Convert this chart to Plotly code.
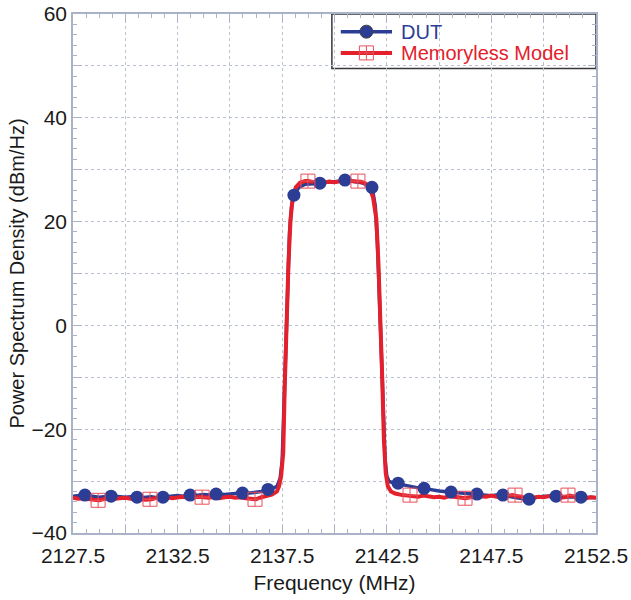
import plotly.graph_objects as go

# ---- Memoryless model spectrum (MHz, dBm/Hz) ----
model_freq = [
    2127.5, 2127.75, 2128.0, 2128.25, 2128.5, 2128.75, 2129.0, 2129.25, 2129.5, 2129.75,
    2130.0, 2130.25, 2130.5, 2130.75, 2131.0, 2131.25, 2131.5, 2131.75, 2132.0, 2132.25,
    2132.5, 2132.75, 2133.0, 2133.25, 2133.5, 2133.75, 2134.0, 2134.25, 2134.5, 2134.75,
    2135.0, 2135.25, 2135.5, 2135.75, 2136.0, 2136.25, 2136.5, 2136.75, 2137.0, 2137.25,
    2137.35, 2137.45, 2137.55, 2137.62, 2137.7, 2137.8, 2137.9, 2138.0, 2138.15, 2138.35,
    2138.6, 2138.75, 2139.0, 2139.25, 2139.5, 2139.75, 2140.0, 2140.25, 2140.5, 2140.75,
    2141.0, 2141.25, 2141.5, 2141.7, 2141.85, 2142.0, 2142.1, 2142.2, 2142.28, 2142.36,
    2142.45, 2142.55, 2142.7, 2142.9,
    2143.0, 2143.25, 2143.5, 2143.75, 2144.0, 2144.25, 2144.5, 2144.75, 2145.0, 2145.25,
    2145.5, 2145.75, 2146.0, 2146.25, 2146.5, 2146.75, 2147.0, 2147.25, 2147.5, 2147.75,
    2148.0, 2148.25, 2148.5, 2148.75, 2149.0, 2149.25, 2149.5, 2149.75, 2150.0, 2150.25,
    2150.5, 2150.75, 2151.0, 2151.25, 2151.5, 2151.75, 2152.0, 2152.25, 2152.5,
]
model_psd = [
    -33.2, -33.4, -33.3, -33.5, -33.6, -33.7, -33.5, -33.2, -33.4, -33.3,
    -33.2, -33.4, -33.3, -33.5, -33.6, -33.5, -33.2, -33.3, -33.1, -33.3,
    -33.2, -33.0, -33.2, -33.1, -33.0, -33.1, -33.2, -33.0, -33.3, -33.1,
    -33.0, -33.2, -33.1, -33.3, -33.4, -33.5, -33.1, -32.8, -32.6, -32.0,
    -31.0, -29.0, -24.5, -12.0, 0.0, 12.0, 20.5, 24.5, 26.6, 27.5,
    27.8, 27.8, 27.6, 27.4, 27.5, 27.7, 27.6, 27.8, 27.9, 27.8,
    27.8, 27.7, 27.3, 26.4, 24.5, 20.5, 12.0, 2.0, -10.0, -22.0,
    -28.5, -31.0, -32.0, -32.4,
    -32.5, -32.7, -32.8, -32.9, -33.0, -32.8, -32.9, -33.1, -33.0, -33.2,
    -32.9, -33.0, -33.1, -33.3, -33.1, -33.0, -32.9, -33.0, -32.8, -33.0,
    -33.1, -32.9, -32.7, -32.9, -33.1, -33.3, -33.2, -33.0, -33.1, -32.9,
    -33.0, -33.2, -33.1, -32.8, -33.0, -33.2, -33.3, -33.1, -33.2,
]

# ---- Measured DUT spectrum ----
dut_freq = [
    2127.5, 2127.75, 2128.0, 2128.25, 2128.5, 2128.75, 2129.0, 2129.25, 2129.5, 2129.75,
    2130.0, 2130.25, 2130.5, 2130.75, 2131.0, 2131.25, 2131.5, 2131.75, 2132.0, 2132.25,
    2132.5, 2132.75, 2133.0, 2133.25, 2133.5, 2133.75, 2134.0, 2134.25, 2134.5, 2134.75,
    2135.0, 2135.25, 2135.5, 2135.75, 2136.0, 2136.25, 2136.5, 2136.75, 2137.0, 2137.25,
    2137.4, 2137.5, 2137.58, 2137.66, 2137.75, 2137.85, 2137.95, 2138.06, 2138.3, 2138.6,
    2139.0, 2139.3, 2139.75, 2140.2, 2140.5, 2140.9, 2141.3, 2141.6, 2141.8, 2141.95,
    2142.05, 2142.15, 2142.25, 2142.33, 2142.42, 2142.5, 2142.6, 2142.75,
    2143.0, 2143.25, 2143.5, 2143.75, 2144.0, 2144.25, 2144.5, 2144.75, 2145.0, 2145.25,
    2145.5, 2145.75, 2146.0, 2146.25, 2146.5, 2146.75, 2147.0, 2147.25, 2147.5, 2147.75,
    2148.0, 2148.25, 2148.5, 2148.75, 2149.0, 2149.25, 2149.5, 2149.75, 2150.0, 2150.25,
    2150.5, 2150.75, 2151.0, 2151.25, 2151.5, 2151.75, 2152.0, 2152.25, 2152.5,
]
dut_psd = [
    -32.9, -32.8, -32.7, -32.8, -33.0, -33.1, -33.0, -32.9, -32.9, -33.0,
    -33.1, -33.0, -33.1, -33.2, -33.1, -33.0, -33.2, -33.1, -33.0, -32.9,
    -32.8, -32.9, -32.7, -32.8, -32.7, -32.6, -32.7, -32.6, -32.5, -32.6,
    -32.5, -32.4, -32.3, -32.4, -32.3, -32.1, -32.0, -31.7, -31.5, -31.0,
    -29.5, -26.0, -15.0, -3.0, 9.0, 18.0, 23.0, 25.1, 26.6, 27.2,
    27.3, 27.4, 27.6, 27.8, 28.0, 27.7, 27.5, 27.0, 26.6, 23.0,
    16.0, 5.0, -7.0, -18.0, -26.0, -29.0, -30.0, -30.3,
    -30.5, -30.8, -31.0, -31.1, -31.3, -31.4, -31.6, -31.7, -31.9, -32.0,
    -32.1, -32.2, -32.3, -32.4, -32.5, -32.6, -32.6, -32.7, -32.8, -32.7,
    -32.7, -32.9, -33.1, -33.3, -33.4, -33.4, -33.2, -33.0, -32.9, -32.9,
    -32.9, -33.0, -33.1, -33.0, -33.0, -33.1, -33.2, -33.1, -33.2,
]

# ---- Marker samples along each curve ----
dut_mark_freq = [
    2128.07, 2129.32, 2130.56, 2131.8, 2133.1, 2134.34, 2135.6, 2136.82, 2138.06, 2139.3,
    2140.5, 2141.79, 2143.04, 2144.28, 2145.57, 2146.81, 2148.05, 2149.3, 2150.59, 2151.78,
]
dut_mark_psd = [
    -32.7, -32.9, -33.1, -33.1, -32.7, -32.5, -32.3, -31.6, 25.1, 27.4,
    28.0, 26.6, -30.4, -31.4, -32.1, -32.5, -32.7, -33.5, -32.9, -33.1,
]
model_mark_freq = [
    2128.7, 2131.18, 2133.67, 2136.2, 2138.73, 2141.12, 2143.61, 2146.24, 2148.63, 2151.16,
]
model_mark_psd = [
    -33.7, -33.5, -33.1, -33.5, 27.8, 27.8, -32.7, -33.3, -32.7, -32.7,
]

# ---- Axis ticks ----
x_tick_vals = [2127.5, 2130.0, 2132.5, 2135.0, 2137.5, 2140.0, 2142.5, 2145.0, 2147.5, 2150.0, 2152.5]
x_tick_text = ["2127.5", "", "2132.5", "", "2137.5", "", "2142.5", "", "2147.5", "", "2152.5"]
y_tick_vals = [-40, -30, -20, -10, 0, 10, 20, 30, 40, 50, 60]
y_tick_text = ["\u221240", "", "\u221220", "", "0", "", "20", "", "40", "", "60"]

series_names = ["DUT", "Memoryless Model"]

BLUE = "#2b3d95"
RED = "#e3202b"
SQUARE = "#e8505a"
AXIS = "#a9b2c6"
GRID = "#b9c0d2"
TEXT = "#1a1a1a"
FONT = "Liberation Sans, Arial, sans-serif"

fig = go.Figure()

# DUT curve first so the model curve sits on top of it
fig.add_trace(go.Scatter(x=dut_freq, y=dut_psd, mode="lines",
                         line=dict(color=BLUE, width=3.5), hoverinfo="skip"))
fig.add_trace(go.Scatter(x=model_freq, y=model_psd, mode="lines",
                         line=dict(color=RED, width=4), hoverinfo="skip"))
fig.add_trace(go.Scatter(x=dut_mark_freq, y=dut_mark_psd, mode="markers", name=series_names[0],
                         marker=dict(symbol="circle", size=13, color=BLUE)))
fig.add_trace(go.Scatter(x=model_mark_freq, y=model_mark_psd, mode="markers", name=series_names[1],
                         marker=dict(symbol="square-cross-open", size=14, color=SQUARE,
                                     line=dict(width=1))))

# ---- Key box in the upper-right corner (paper coordinates on an overlay axis) ----
key_left, key_right, key_bottom, key_top = 0.495, 1.0, 0.895, 1.0
key_line_x = [0.512, 0.610]
key_mark_x = 0.561
key_text_x = 0.623
key_rows_y = [0.966, 0.925]
key_colors = [BLUE, RED]
key_widths = [3.5, 4]
key_symbols = ["circle", "square-cross-open"]
key_marker_colors = [BLUE, SQUARE]
key_marker_sizes = [13, 14]

fig.add_shape(type="rect", xref="paper", yref="paper",
              x0=key_left, x1=key_right, y0=key_bottom, y1=key_top,
              line=dict(color="#383838", width=1.5), fillcolor="white", layer="below")
for row_y, col, lw, sym, mcol, msz, label in zip(key_rows_y, key_colors, key_widths, key_symbols,
                                                 key_marker_colors, key_marker_sizes, series_names):
    fig.add_trace(go.Scatter(
        x=key_line_x, y=[row_y, row_y], xaxis="x2", yaxis="y2",
        mode="lines", line=dict(color=col, width=lw), hoverinfo="skip"))
    fig.add_trace(go.Scatter(
        x=[key_mark_x], y=[row_y], xaxis="x2", yaxis="y2", mode="markers", hoverinfo="skip",
        marker=dict(symbol=sym, size=msz, color=mcol, line=dict(width=1))))
    fig.add_annotation(xref="paper", yref="paper", x=key_text_x, y=row_y,
                       xanchor="left", yanchor="middle", showarrow=False, text=label,
                       font=dict(family=FONT, size=20, color=col))

axis_common = dict(
    showline=True, linecolor=AXIS, linewidth=1.5, mirror="ticks",
    ticks="inside", ticklen=8, tickcolor=AXIS, tickwidth=1,
    showgrid=True, gridcolor=GRID, griddash="dot", gridwidth=1,
    zeroline=False, automargin=False, tickfont=dict(family=FONT, size=21, color=TEXT),
)

fig.update_xaxes(
    range=[2127.5, 2152.5], tickmode="array", tickvals=x_tick_vals, ticktext=x_tick_text,
    minor=dict(dtick=0.625, tick0=2127.5, ticks="inside", ticklen=4, tickcolor=AXIS, showgrid=False),
    ticklabelstandoff=3,
    title=dict(text="Frequency (MHz)", font=dict(family=FONT, size=21, color=TEXT), standoff=9),
    **axis_common,
)
fig.update_yaxes(
    range=[-40, 60], tickmode="array", tickvals=y_tick_vals, ticktext=y_tick_text,
    minor=dict(dtick=2, tick0=-40, ticks="inside", ticklen=4, tickcolor=AXIS, showgrid=False),
    title=dict(text="Power Spectrum Density (dBm/Hz)", font=dict(family=FONT, size=20, color=TEXT), standoff=1),
    **axis_common,
)

fig.update_layout(
    width=631, height=600,
    margin=dict(l=73, r=35, t=14, b=67),
    paper_bgcolor="white", plot_bgcolor="white",
    font=dict(family=FONT, size=20),
    showlegend=False,
    xaxis2=dict(overlaying="x", range=[0, 1], visible=False, fixedrange=True),
    yaxis2=dict(overlaying="y", range=[0, 1], visible=False, fixedrange=True),
)

fig.write_html("out.html")
